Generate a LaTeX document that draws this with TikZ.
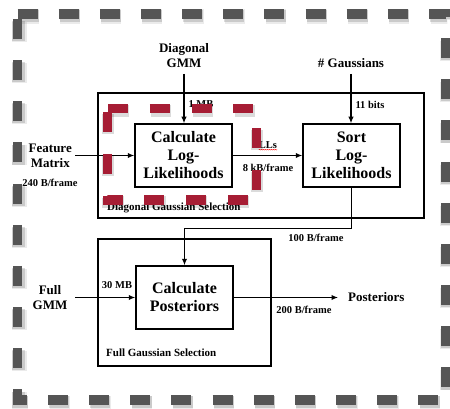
\documentclass[tikz,border=0pt]{standalone}
\usepackage{fontspec}
\setmainfont{Liberation Serif}
\usetikzlibrary{arrows.meta,decorations.pathmorphing}
\definecolor{borderGray}{RGB}{85,85,85}
\definecolor{dashRed}{RGB}{166,29,52}
\begin{document}
\begin{tikzpicture}[x=1pt,y=-1pt,
  box/.style={draw,line width=1.5pt,minimum width=97pt,minimum height=63pt,inner sep=0pt,align=center,font=\fontsize{16}{18}\selectfont\bfseries},
  grp/.style={draw,line width=1.5pt,inner sep=0pt},
  lbl/.style={font=\fontsize{13}{15}\selectfont\bfseries,align=center,inner sep=0pt},
  small/.style={font=\fontsize{10.5}{12}\selectfont\bfseries,inner sep=0pt},
  grptxt/.style={font=\fontsize{11}{13}\selectfont\bfseries,inner sep=0pt,anchor=west},
  arr/.style={line width=1.2pt,-{Latex[length=6.5pt,width=5.5pt]}},
  graydash/.style={line width=9.5pt,dash pattern=on 20pt off 21.15pt},
  reddash/.style={line width=9pt,dash pattern=on 20pt off 21.8pt},
  shade/.style={black,opacity=0.14,line width=12.5pt},
  shadewide/.style={black,opacity=0.08,line width=15pt},
]
\useasboundingbox (0,0) rectangle (450,409);

% group boxes
\node[grp,minimum width=326pt,minimum height=125pt] (diagsel) at (261,155.5) {};
\node[grp,minimum width=173pt,minimum height=127pt] (fullsel) at (184.5,302.5) {};

% blocks
\node[box] (calcLL) at (183.5,155.5) {Calculate\\Log-\\Likelihoods};
\node[box] (sortLL) at (351.5,155.5) {Sort\\Log-\\Likelihoods};
\node[box] (calcPost) at (184.5,297.5) {Calculate\\Posteriors};

% outer labels
\node[lbl,anchor=south,inner ysep=6pt] (dgmm) at (184,74) {Diagonal\\GMM};
\node[lbl,anchor=south,inner ysep=6pt] (ngauss) at (351,74) {\# Gaussians};
\node[lbl,anchor=east,inner xsep=3pt] (featm) at (75,155.5) {Feature\\Matrix};
\node[lbl,anchor=east,inner xsep=7.5pt] (fgmm) at (75,297.5) {Full\\GMM};
\node[lbl,anchor=west,inner xsep=10pt] (post) at (338,297.5) {Posteriors};

% arrows
\draw[arr] (dgmm.south) -- (dgmm.south |- calcLL.north);
\draw[arr] (ngauss.south) -- (ngauss.south |- sortLL.north);
\draw[arr] (featm.east) -- (featm.east -| calcLL.west);
\draw[arr] (calcLL.east) -- (sortLL.west);
\draw[arr] (sortLL.south) -- ++(0,41) -| (calcPost.north);
\draw[arr] (fgmm.east) -- (fgmm.east -| calcPost.west);
\draw[arr] (calcPost.east) -- (post.west);

% small labels
\node[small] (mb1) at (201,104) {1 MB};
\node[small] (bits) at (370,105) {11 bits};
\node[small] (bpf240) at (50,183) {240 B/frame};
\node[small] (lls) at (268,145) {LLs};
\node[small] (kbpf) at (268,168) {8 kB/frame};
\node[small] (bpf100) at (316,238) {100 B/frame};
\node[small] (mb30) at (117,285) {30 MB};
\node[small] (bpf200) at (304,310) {200 B/frame};
\node[grptxt] (dgs) at (107,208) {Diagonal Gaussian Selection};
\node[grptxt] (fgs) at (106,353) {Full Gaussian Selection};
\draw[red,line width=0.4pt,decorate,decoration={snake,amplitude=0.4pt,segment length=2pt}]
  ([yshift=-1pt]lls.south west) -- ([yshift=-1pt]lls.south east);

% red dashed highlight
\begin{scope}[shift={(1.2,2)}]
\draw[shade,dash pattern=on 20pt off 21.8pt,dash phase=40.8pt] (107,109) -- (256,109) -- (256,200);
\draw[shade,dash pattern=on 20pt off 21.8pt,dash phase=38.8pt] (107,109) -- (107,200) -- (256,200);
\end{scope}
\draw[dashRed,reddash,dash phase=40.8pt] (107,109) -- (256,109) -- (256,200);
\draw[dashRed,reddash,dash phase=38.8pt] (107,109) -- (107,200) -- (256,200);

% gray dashed border
\begin{scope}[shift={(1.5,3)}]
\draw[shadewide,dash pattern=on 20pt off 21.15pt] (17.5,14) -- (446,14) -- (446,400);
\draw[shadewide,dash pattern=on 20pt off 21.15pt,dash phase=36.15pt] (17.5,14) -- (17.5,400) -- (446,400);
\end{scope}
\begin{scope}[shift={(1.2,2.2)}]
\draw[shade,dash pattern=on 20pt off 21.15pt] (17.5,14) -- (446,14) -- (446,400);
\draw[shade,dash pattern=on 20pt off 21.15pt,dash phase=36.15pt] (17.5,14) -- (17.5,400) -- (446,400);
\end{scope}
\draw[borderGray,graydash] (17.5,14) -- (446,14) -- (446,400);
\draw[borderGray,graydash,dash phase=36.15pt] (17.5,14) -- (17.5,400) -- (446,400);
\end{tikzpicture}
\end{document}
